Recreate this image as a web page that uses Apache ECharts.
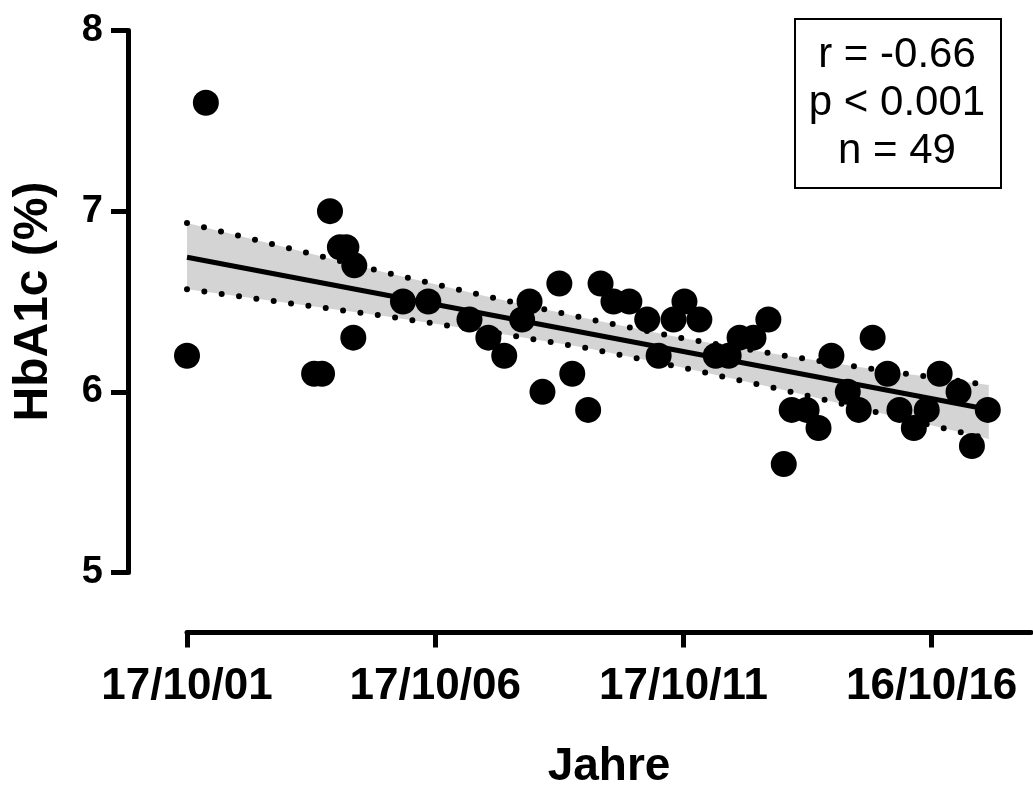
<!DOCTYPE html>
<html>
<head>
<meta charset="utf-8">
<script src="https://cdn.jsdelivr.net/npm/echarts@6/dist/echarts.min.js"></script>
<style>
html,body{margin:0;padding:0;background:#fff;}
#chart{width:1033px;height:798px;}
</style>
</head>
<body>
<div id="chart"></div>
<script>
// Years since 17/10/2001
const tickYears = [0, 5, 10, 15];
const tickLabels = ['17/10/01', '17/10/06', '17/10/11', '16/10/16'];
const yTicks = [5, 6, 7, 8];

const years = [0.00, 0.38, 2.56, 2.72, 2.88, 3.08, 3.21, 3.37, 3.35, 4.35,
  4.86, 5.69, 6.07, 6.39, 6.75, 6.90, 7.16, 7.50, 7.76, 8.08,
  8.33, 8.59, 8.91, 9.27, 9.50, 9.80, 10.02, 10.32, 10.65, 10.91,
  11.13, 11.41, 11.71, 12.02, 12.18, 12.48, 12.72, 12.98, 13.31, 13.53,
  13.81, 14.11, 14.35, 14.64, 14.90, 15.16, 15.54, 15.81, 16.13];
const hba1c = [6.2, 7.6, 6.1, 6.1, 7.0, 6.8, 6.8, 6.7, 6.3, 6.5,
  6.5, 6.4, 6.3, 6.2, 6.4, 6.5, 6.0, 6.6, 6.1, 5.9,
  6.6, 6.5, 6.5, 6.4, 6.2, 6.4, 6.5, 6.4, 6.2, 6.2,
  6.3, 6.3, 6.4, 5.6, 5.9, 5.9, 5.8, 6.2, 6.0, 5.9,
  6.3, 6.1, 5.9, 5.8, 5.9, 6.1, 6.0, 5.7, 5.9];

const fitX = [0, 16.15];
const fitY = [6.745, 5.902];

const bandX = [0, 2, 4, 6, 8, 10, 12, 14, 16.15];
const bandUpper = [6.934, 6.799, 6.661, 6.531, 6.408, 6.296, 6.202, 6.118, 6.038];
const bandLower = [6.568, 6.493, 6.419, 6.336, 6.245, 6.133, 6.011, 5.880, 5.739];

const statsLines = ['r = -0.66', 'p < 0.001', 'n = 49'];

const zip = (a, b) => a.map((v, i) => [v, b[i]]);

const chart = echarts.init(document.getElementById('chart'), null, {renderer: 'canvas'});
const dotStyle = {color: '#000', width: 6, type: [0, 17.5], cap: 'round'};

chart.setOption({
  animation: false,
  backgroundColor: '#fff',
  grid: {left: 187, right: 2, top: 30.5, bottom: 225.5, containLabel: false},
  xAxis: {
    type: 'value', min: 0, max: 17, interval: 5,
    offset: 60,
    splitLine: {show: false},
    axisLine: {show: true, onZero: false, lineStyle: {color: '#000', width: 5}},
    axisTick: {show: true, length: 15, lineStyle: {color: '#000', width: 5}, customValues: tickYears},
    axisLabel: {
      customValues: tickYears, margin: 32,
      formatter: v => tickLabels[tickYears.indexOf(v)] || '',
      fontFamily: '"Liberation Sans", Arial, sans-serif',
      fontWeight: 'bold', fontSize: 44, color: '#000'
    },
    name: 'Jahre', nameLocation: 'middle', nameGap: 112,
    nameTextStyle: {fontFamily: '"Liberation Sans", Arial, sans-serif', fontWeight: 'bold', fontSize: 46, color: '#000'}
  },
  yAxis: {
    type: 'value', min: 5, max: 8, interval: 1,
    offset: 59,
    splitLine: {show: false},
    axisLine: {show: true, onZero: false, lineStyle: {color: '#000', width: 5}},
    axisTick: {show: true, length: 17, lineStyle: {color: '#000', width: 5}},
    axisLabel: {
      margin: 25, customValues: yTicks,
      fontFamily: '"Liberation Sans", Arial, sans-serif', fontWeight: 'bold', fontSize: 38, color: '#000'
    },
    name: 'HbA1c (%)', nameLocation: 'middle', nameGap: 70, nameRotate: 90,
    nameTextStyle: {fontFamily: '"Liberation Sans", Arial, sans-serif', fontWeight: 'bold', fontSize: 48, color: '#000'}
  },
  series: [
    {
      type: 'custom', name: 'band', data: [[bandX[0], bandLower[0]]], z: 1, silent: true,
      renderItem: function (params, api) {
        const up = bandX.map((x, i) => api.coord([x, bandUpper[i]]));
        const lo = bandX.map((x, i) => api.coord([x, bandLower[i]])).reverse();
        return {type: 'polygon', shape: {points: up.concat(lo)}, style: {fill: '#d4d4d4'}};
      }
    },
    {
      type: 'line', name: 'upper', data: zip(bandX, bandUpper),
      symbol: 'none', lineStyle: dotStyle, z: 2
    },
    {
      type: 'line', name: 'lower', data: zip(bandX, bandLower),
      symbol: 'none', lineStyle: dotStyle, z: 2
    },
    {
      type: 'line', name: 'fit', data: zip(fitX, fitY),
      symbol: 'none', lineStyle: {color: '#000', width: 5}, z: 3
    },
    {
      type: 'scatter', name: 'HbA1c', data: zip(years, hba1c),
      symbol: 'circle', symbolSize: 26, itemStyle: {color: '#000', opacity: 1}, z: 4
    }
  ],
  graphic: [
    {
      type: 'rect', left: 794, top: 18, z: 10,
      shape: {width: 206, height: 169},
      style: {fill: '#fff', stroke: '#000', lineWidth: 2}
    },
    ...statsLines.map((t, i) => ({
      type: 'text', z: 11,
      x: 897, y: 55 + i * 48,
      style: {
        text: t, fill: '#000', align: 'center', verticalAlign: 'middle',
        font: '42px "Liberation Sans", Arial, sans-serif'
      }
    }))
  ]
});
</script>
</body>
</html>
